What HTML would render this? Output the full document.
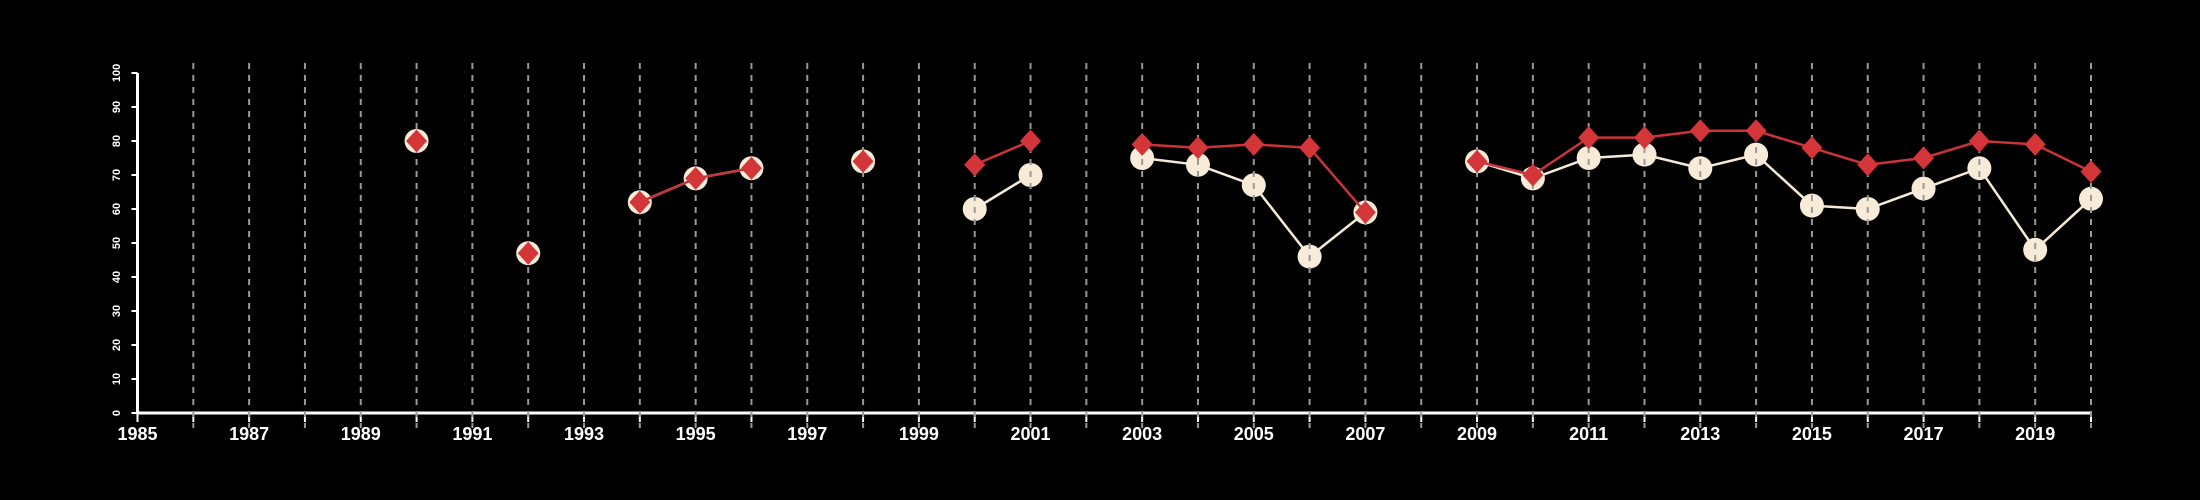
<!DOCTYPE html>
<html><head><meta charset="utf-8"><style>
html,body{margin:0;padding:0;background:#000;}
svg{display:block;}
text{font-family:"Liberation Sans",sans-serif;fill:#fff;}
</style></head><body>
<svg id="chart" width="2200" height="500">
<g id="grid"></g>
<g id="axes"></g>
<g id="series"></g>
</svg>
<script>
const years = [1990,1992,1994,1995,1996,1998,2000,2001,2003,2004,2005,2006,2007,2009,2010,2011,2012,2013,2014,2015,2016,2017,2018,2019,2020];
const redValues = [80,47,62,69,72,74,73,80,79,78,79,78,59,74,70,81,81,83,83,78,73,75,80,79,71];
const whiteValues = [80,47,62,69,72,74,60,70,75,73,67,46,59,74,69,75,76,72,76,61,60,66,72,48,63];
const yTicks = [0,10,20,30,40,50,60,70,80,90,100];
const xLabels = [1985,1987,1989,1991,1993,1995,1997,1999,2001,2003,2005,2007,2009,2011,2013,2015,2017,2019];

const NS="http://www.w3.org/2000/svg";
const X0=137.5, X1=2091, Y0=413, Y1=73;
const xs = y => X0 + (y-1985)*(X1-X0)/35;
const ys = v => Y0 - v*(Y0-Y1)/100;
function mk(tag, attrs, parent){const e=document.createElementNS(NS,tag);for(const k in attrs)e.setAttribute(k,attrs[k]);parent.appendChild(e);return e;}
const grid=document.getElementById('grid'), axes=document.getElementById('axes'), series=document.getElementById('series');

// axes
let a=mk('line',{x1:X0,y1:Y0,x2:X1,y2:Y0,stroke:'#fff','stroke-width':3},axes);


a=mk('line',{x1:X0,y1:Y0,x2:X0,y2:Y1,stroke:'#fff','stroke-width':3},axes);


for(const t of yTicks){
  const y=ys(t);
  const tk=mk('line',{x1:X0-6,y1:y,x2:X0,y2:y,stroke:'#fff','stroke-width':2},axes);
  
  
  const tx=mk('text',{x:0,y:0,transform:`translate(120,${y}) rotate(-90)`,'text-anchor':'middle','font-size':11,'font-weight':'bold'},axes);
  tx.textContent=t;
  
  
}
for(let yr=1985; yr<=2020; yr++){
  const x=xs(yr);
  const tk=mk('line',{x1:x,y1:Y0,x2:x,y2:Y0+9,stroke:'#fff','stroke-width':2},axes);
  
  
}
for(const l of xLabels){
  const tx=mk('text',{x:xs(l),y:440,'text-anchor':'middle','font-size':18,'font-weight':'bold'},axes);
  tx.textContent=l;
  
  
}

function segs(vals){
  const out=[];let cur=[];
  for(let i=0;i<years.length;i++){
    if(i>0 && years[i]-years[i-1]!==1){out.push(cur);cur=[];}
    cur.push([xs(years[i]),ys(vals[i])]);
  }
  out.push(cur);return out;
}
// white line + circles
for(const s of segs(whiteValues)){ if(s.length>1){
  const p=mk('polyline',{points:s.map(q=>q.join(',')).join(' '),fill:'none',stroke:'#f5ead6','stroke-width':2.5},series);
  
  
}}
for(let i=0;i<years.length;i++){
  const c=mk('circle',{cx:xs(years[i]),cy:ys(whiteValues[i]),r:12,fill:'#f8ecd8'},series);
  
  
}
// gridlines over circles
for(let yr=1986; yr<=2020; yr++){
  const g=mk('line',{x1:xs(yr),y1:63,x2:xs(yr),y2:428,stroke:'#999','stroke-width':2,'stroke-dasharray':'6,6'},series);
  
  
}
// red line + diamonds
for(const s of segs(redValues)){ if(s.length>1){
  const p=mk('polyline',{points:s.map(q=>q.join(',')).join(' '),fill:'none',stroke:'#c9343a','stroke-width':2.5},series);
  
  
}}
for(let i=0;i<years.length;i++){
  const x=xs(years[i]), y=ys(redValues[i]), d=10.5;
  const p=mk('polygon',{points:`${x},${y-d-1} ${x+d},${y} ${x},${y+d+1} ${x-d},${y}`,fill:'#d43538'},series);
  
  
}
</script>
</body></html>
